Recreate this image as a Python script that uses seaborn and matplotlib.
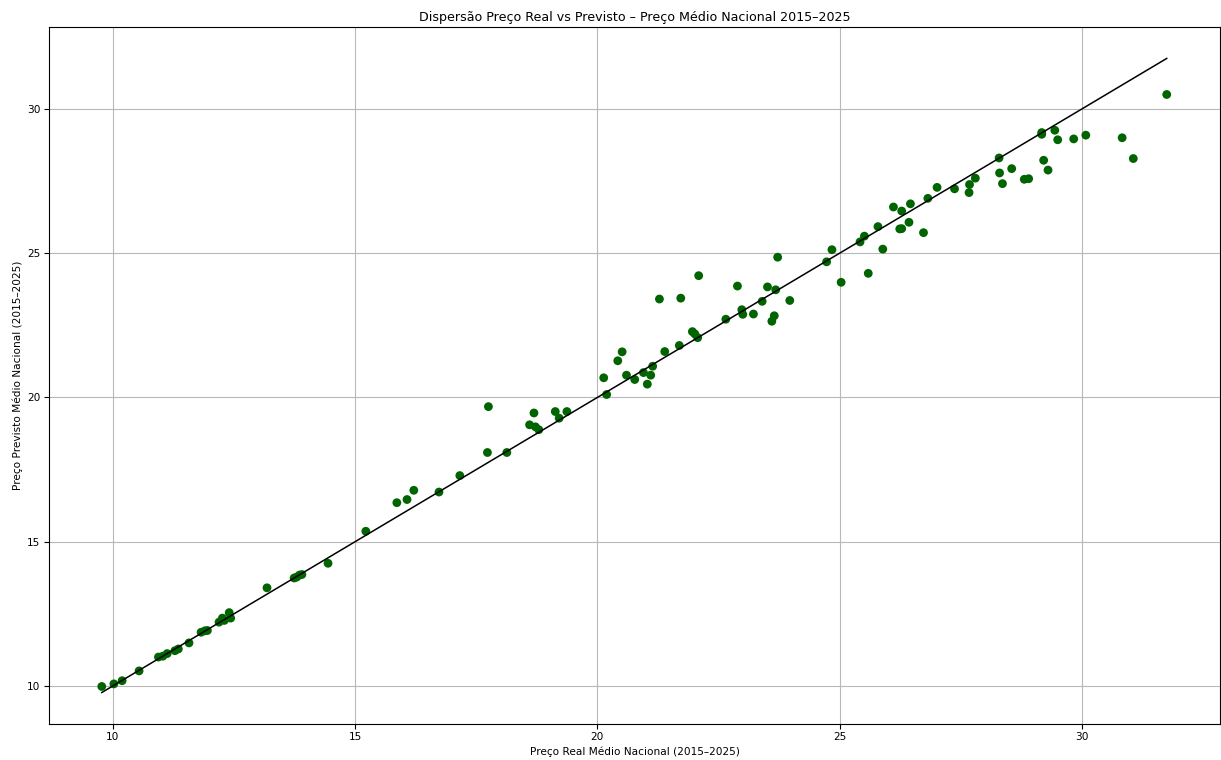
import matplotlib
matplotlib.use("Agg")
import matplotlib.pyplot as plt
import seaborn as sns
import pandas as pd

# Preço real médio nacional (R$) por observação
preco_real = [
    9.77, 10.02, 10.19, 10.54, 10.94, 11.03, 11.12, 11.28, 11.35, 11.57,
    11.82, 11.90, 11.95, 12.19, 12.26, 12.30, 12.40, 12.43, 13.18, 13.74,
    13.79, 13.85, 13.90, 14.44, 15.22, 15.86, 16.07, 16.21, 16.73, 17.16,
    17.73, 17.75, 18.13, 18.60, 18.69, 18.72, 18.79, 19.13, 19.21, 19.37,
    20.13, 20.19, 20.42, 20.51, 20.60, 20.77, 20.95, 21.03, 21.10, 21.14,
    21.28, 21.39, 21.69, 21.72, 21.96, 22.01, 22.07, 22.09, 22.65, 22.89,
    22.98, 23.00, 23.22, 23.40, 23.51, 23.60, 23.65, 23.68, 23.72, 23.97,
    24.73, 24.84, 25.03, 25.42, 25.51, 25.59, 25.79, 25.89, 26.11, 26.24,
    26.28, 26.28, 26.43, 26.46, 26.73, 26.82, 27.01, 27.37, 27.67, 27.68,
    27.80, 28.29, 28.30, 28.36, 28.55, 28.81, 28.90, 29.17, 29.17, 29.21,
    29.30, 29.44, 29.50, 29.83, 30.08, 30.83, 31.06, 31.75,
]

# Preço previsto pelo modelo para as mesmas observações
preco_previsto = [
    9.98, 10.07, 10.18, 10.52, 11.00, 11.03, 11.12, 11.22, 11.28, 11.49,
    11.86, 11.91, 11.92, 12.21, 12.35, 12.27, 12.54, 12.35, 13.40, 13.74,
    13.77, 13.84, 13.86, 14.25, 15.36, 16.35, 16.46, 16.78, 16.72, 17.29,
    18.09, 19.68, 18.09, 19.05, 19.46, 18.98, 18.88, 19.51, 19.28, 19.51,
    20.68, 20.10, 21.27, 21.58, 20.77, 20.62, 20.86, 20.46, 20.77, 21.08,
    23.41, 21.59, 21.80, 23.44, 22.28, 22.20, 22.07, 24.22, 22.71, 23.86,
    23.04, 22.88, 22.89, 23.33, 23.83, 22.64, 22.83, 23.73, 24.86, 23.36,
    24.70, 25.12, 23.99, 25.39, 25.59, 24.30, 25.92, 25.14, 26.60, 25.84,
    25.85, 26.46, 26.07, 26.71, 25.71, 26.90, 27.28, 27.23, 27.10, 27.38,
    27.60, 28.30, 27.78, 27.41, 27.93, 27.56, 27.58, 29.18, 29.12, 28.22,
    27.88, 29.26, 28.93, 28.96, 29.09, 29.00, 28.28, 30.50,
]

titulo = "Dispersão Preço Real vs Previsto – Preço Médio Nacional 2015–2025"
rotulo_x = "Preço Real Médio Nacional (2015–2025)"
rotulo_y = "Preço Previsto Médio Nacional (2015–2025)"

df = pd.DataFrame({"real": preco_real, "previsto": preco_previsto})

plt.rcParams["font.family"] = ["DejaVu Sans"]
fig = plt.figure(figsize=(12.21, 7.6), dpi=100)
ax = fig.add_axes([0.0401, 0.0474, 0.9591, 0.9171])

sns.scatterplot(data=df, x="real", y="previsto", color="darkgreen", s=40,
                edgecolor="none", ax=ax, zorder=3)

# Linha de referência y = x entre o menor e o maior preço real
lo, hi = min(preco_real), max(preco_real)
ax.plot([lo, hi], [lo, hi], color="black", linewidth=1.1, zorder=4)

ax.set_xlim(8.68, 32.85)
ax.set_ylim(8.68, 32.84)
ax.set_xticks([10, 15, 20, 25, 30])
ax.set_yticks([10, 15, 20, 25, 30])
ax.grid(True, color="#b8b8b8", linewidth=0.8)
ax.set_axisbelow(True)
for s in ax.spines.values():
    s.set_linewidth(0.8)
ax.set_title(titulo, fontsize=9.1, pad=4.5)
ax.set_xlabel(rotulo_x, fontsize=7.6, labelpad=3)
ax.set_ylabel(rotulo_y, fontsize=7.6, labelpad=3)
ax.tick_params(labelsize=7.6, length=3.5, width=0.8, pad=2.6)

fig.savefig("out.png", dpi=100)
